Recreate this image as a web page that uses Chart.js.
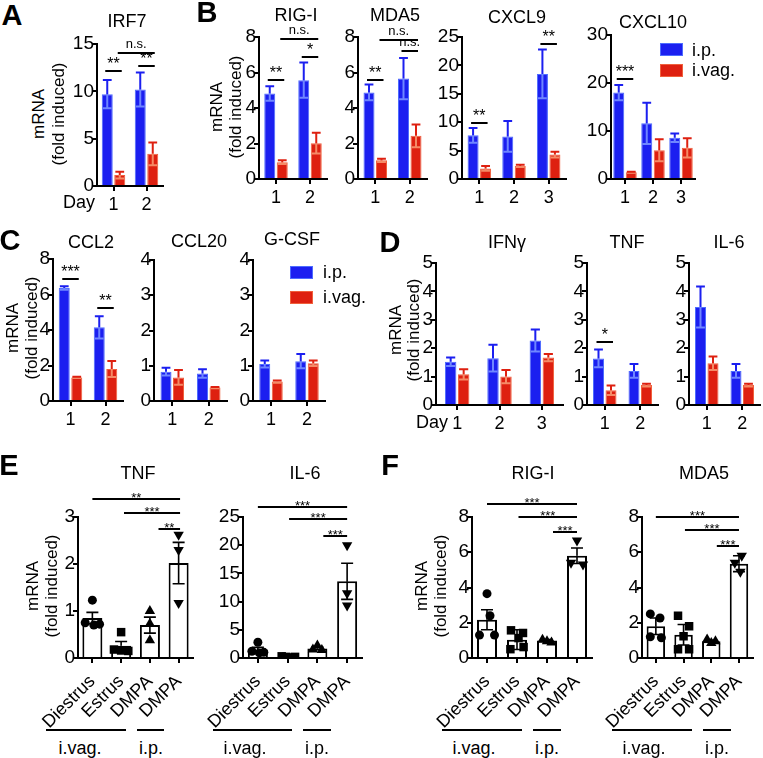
<!DOCTYPE html>
<html>
<head>
<meta charset="utf-8">
<script src="https://cdn.jsdelivr.net/npm/chart.js@4.4.1/dist/chart.umd.min.js"></script>
<style>
  body { margin: 0; background: #fff; }
  #fig { position: relative; width: 763px; height: 758px; overflow: hidden;
         font-family: 'Liberation Sans', Arial, Helvetica, sans-serif; color: #000; }
  #fig canvas { position: absolute; }
  .t { position: absolute; white-space: nowrap; font-size: 18px; line-height: 1; }
  .rule { position: absolute; height: 2px; background: #000; }
  .sw { position: absolute; width: 21px; height: 11px; border: 1px solid; }
</style>
</head>
<body>
<div id="fig"></div>
<script>
// ---------- data: day courses (A-D) ----------
const days2 = ['1', '2'];
const days3 = ['1', '2', '3'];

const irf7Ip = [9.7, 10.2],   irf7IpSem = [1.5, 1.8];
const irf7Ivag = [1.15, 3.4], irf7IvagSem = [0.35, 1.2];

const rigIp = [4.82, 5.57],   rigIpSem = [0.41, 0.99];
const rigIvag = [0.95, 2.02], rigIvagSem = [0.1, 0.58];

const mda5Ip = [4.88, 5.66],   mda5IpSem = [0.45, 1.16];
const mda5Ivag = [1.05, 2.43], mda5IvagSem = [0.09, 0.64];

const cxcl9Ip = [7.7, 7.5, 18.5],   cxcl9IpSem = [1.3, 2.7, 4.3];
const cxcl9Ivag = [1.87, 2.3, 4.3], cxcl9IvagSem = [0.43, 0.2, 0.5];

const cxcl10Ip = [18.0, 11.6, 8.6], cxcl10IpSem = [1.6, 4.3, 0.9];
const cxcl10Ivag = [1.4, 6.0, 6.5], cxcl10IvagSem = [0.1, 2.3, 2.0];

const ccl2Ip = [6.37, 4.15],  ccl2IpSem = [0.1, 0.63];
const ccl2Ivag = [1.33, 1.8], ccl2IvagSem = [0.04, 0.45];

const ccl20Ip = [0.83, 0.78],   ccl20IpSem = [0.11, 0.12];
const ccl20Ivag = [0.67, 0.38], ccl20IvagSem = [0.21, 0.02];

const gcsfIp = [1.05, 1.13],   gcsfIpSem = [0.1, 0.2];
const gcsfIvag = [0.55, 1.07], gcsfIvagSem = [0.03, 0.08];

const ifngIp = [1.52, 1.65, 2.27],  ifngIpSem = [0.15, 0.47, 0.39];
const ifngIvag = [1.08, 1.0, 1.67], ifngIvagSem = [0.18, 0.23, 0.13];

const dTnfIp = [1.64, 1.2],   dTnfIpSem = [0.31, 0.24];
const dTnfIvag = [0.52, 0.7], dTnfIvagSem = [0.17, 0.05];

const dIl6Ip = [3.45, 1.2],   dIl6IpSem = [0.72, 0.24];
const dIl6Ivag = [1.47, 0.7], dIl6IvagSem = [0.24, 0.05];

// significance bars: a/b = [day index, series index], y in axis units
const irf7Sig = [
  { a: [0, 0], b: [0, 1], y: 12.1, t: '**' },
  { a: [0, 1], b: [1, 1], y: 14.1, t: 'n.s.' },
  { a: [1, 0], b: [1, 1], y: 12.7, t: '**' }
];
const rigSig = [
  { a: [0, 0], b: [0, 1], y: 5.58, t: '**' },
  { a: [0, 1], b: [1, 1], y: 7.9, t: 'n.s.' },
  { a: [1, 0], b: [1, 1], y: 6.87, t: '*' }
];
const mda5Sig = [
  { a: [0, 0], b: [0, 1], y: 5.58, t: '**' },
  { a: [0, 1], b: [1, 1], y: 7.83, t: 'n.s.' },
  { a: [1, 0], b: [1, 1], y: 7.2, t: 'n.s.' }
];
const cxcl9Sig = [
  { a: [0, 0], b: [0, 1], y: 9.86, t: '**' },
  { a: [2, 0], b: [2, 1], y: 23.8, t: '**' }
];
const cxcl10Sig = [{ a: [0, 0], b: [0, 1], y: 20.8, t: '***' }];
const ccl2Sig = [
  { a: [0, 0], b: [0, 1], y: 6.87, t: '***' },
  { a: [1, 0], b: [1, 1], y: 5.24, t: '**' }
];
const dTnfSig = [{ a: [0, 0], b: [0, 1], y: 2.22, t: '*' }];

// ---------- data: cycle / DMPA (E-F) ----------
const groups = ['Diestrus', 'Estrus', 'DMPA', 'DMPA'];

const eTnfMean = [0.85, 0.26, 0.70, 2.02];
const eTnfSem = [0.12, 0.09, 0.17, 0.44];
const eTnfPts = [[1.23, 0.75, 0.72, 0.70], [0.55, 0.18, 0.15, 0.16], [1.0, 0.73, 0.38], [2.62, 2.3, 1.17]];
const eTnfPtX = [[0, -0.25, 0.25, 0.05], [0, -0.25, 0.25, 0], [0, 0, 0], [0, 0, 0]];

const eIl6Mean = [1.48, 0.2, 1.7, 13.6];
const eIl6Sem = [0.4, 0.1, 0.25, 3.2];
const eIl6Pts = [[2.8, 1.2, 1.0, 0.9], [0.3, 0.2, 0.1, 0.2], [2.2, 1.5, 1.4], [20.0, 11.5, 9.3]];
const eIl6PtX = [[0, -0.2, 0.2, 0.05], [-0.2, -0.05, 0.1, 0.25], [0, -0.15, 0.15], [0, 0, 0]];

const fRigMean = [2.17, 1.04, 1.0, 5.8];
const fRigSem = [0.57, 0.56, 0.05, 0.44];
const fRigPts = [[3.65, 2.4, 1.3, 1.3], [1.57, 1.42, 1.13, 0.5, 0.62], [1.04, 0.95, 0.88], [6.67, 5.4, 5.3]];
const fRigPtX = [[0, 0.1, -0.25, 0.25], [-0.2, 0.2, 0.05, -0.22, 0.22], [-0.15, 0, 0.15], [0, -0.2, 0.2]];

const fMda5Mean = [1.8, 1.32, 0.95, 5.35];
const fMda5Sem = [0.47, 0.58, 0.06, 0.45];
const fMda5Pts = [[2.5, 2.27, 1.2, 1.15], [2.4, 1.8, 0.5, 0.5, 1.23], [1.05, 0.95, 0.85], [5.8, 5.4, 4.9]];
const fMda5PtX = [[-0.2, 0.15, -0.2, 0.2], [-0.2, 0.2, -0.2, 0.2, 0], [-0.15, 0.15, 0], [0.1, -0.15, 0.05]];

// a/b = group positions on the x axis
const eTnfSig = [
  { a: 0, b: 3.05, y: 3.38, t: '**' },
  { a: 1.1, b: 3.05, y: 3.08, t: '***' },
  { a: 2.3, b: 3.05, y: 2.74, t: '**' }
];
const eIl6Sig = [
  { a: 0, b: 3, y: 26.8, t: '***' },
  { a: 1.05, b: 3, y: 24.6, t: '***' },
  { a: 2.2, b: 3, y: 21.6, t: '***' }
];
const fRigSig = [
  { a: 0, b: 3, y: 8.74, t: '***' },
  { a: 1.05, b: 3, y: 8.0, t: '***' },
  { a: 2.2, b: 3, y: 7.15, t: '***' }
];
const fMda5Sig = [
  { a: 0, b: 3, y: 8.0, t: '***' },
  { a: 1.05, b: 3, y: 7.26, t: '***' },
  { a: 2.2, b: 3, y: 6.35, t: '***' }
];

// ---------- styling ----------
const FONT = "'Liberation Sans', Arial, Helvetica, sans-serif";
Chart.defaults.font.family = FONT;
Chart.defaults.font.size = 18;
Chart.defaults.color = '#000';

const BLUE = '#1b1ff0', BLUE_EDGE = '#4d6cff', BLUE_IN = '#6f86ff';
const RED = '#de2010', RED_EDGE = '#f0603c', RED_IN = '#f58a66';

const fig = document.getElementById('fig');

// error bars + significance bars
const marks = {
  id: 'marks',
  afterDatasetsDraw(chart, args, opts) {
    const ctx = chart.ctx;
    const ys = chart.scales.y;
    chart.data.datasets.forEach((ds, di) => {
      if (!ds.errors) return;
      chart.getDatasetMeta(di).data.forEach((bar, i) => {
        const d = ds.data[i];
        const v = typeof d === 'object' ? d.y : d, e = ds.errors[i];
        const hi = ys.getPixelForValue(v + e);
        const lo = ys.getPixelForValue(Math.max(v - e, 0));
        const half = (ds.capW || bar.width * 0.8) / 2;
        ctx.save();
        ctx.lineWidth = ds.errWidth || 2;
        ctx.strokeStyle = ds.errInner || ds.errColor;
        ctx.beginPath();
        ctx.moveTo(bar.x, bar.y); ctx.lineTo(bar.x, lo);
        ctx.moveTo(bar.x - half, lo); ctx.lineTo(bar.x + half, lo);
        ctx.stroke();
        ctx.strokeStyle = ds.errColor;
        ctx.beginPath();
        ctx.moveTo(bar.x, bar.y); ctx.lineTo(bar.x, hi);
        ctx.moveTo(bar.x - half, hi); ctx.lineTo(bar.x + half, hi);
        ctx.stroke();
        ctx.restore();
      });
    });
    (opts.brackets || []).forEach(b => {
      let xa, xb;
      if (Array.isArray(b.a)) {
        xa = chart.getDatasetMeta(b.a[1]).data[b.a[0]].x - opts.ext;
        xb = chart.getDatasetMeta(b.b[1]).data[b.b[0]].x + opts.ext;
      } else {
        xa = chart.scales.x.getPixelForValue(b.a);
        xb = chart.scales.x.getPixelForValue(b.b);
      }
      const yy = Math.round(ys.getPixelForValue(b.y));
      const ns = b.t === 'n.s.';
      ctx.save();
      ctx.strokeStyle = '#000';
      ctx.lineWidth = 2;
      ctx.beginPath(); ctx.moveTo(xa, yy); ctx.lineTo(xb, yy); ctx.stroke();
      ctx.fillStyle = '#000';
      ctx.textAlign = 'center';
      ctx.font = (ns ? 13 : opts.starSize) + 'px ' + FONT;
      ctx.fillText(b.t, (xa + xb) / 2, yy + (ns ? -5 : opts.starDy));
      ctx.restore();
    });
  }
};

function pair(ip, ipSem, ivag, ivagSem) {
  return [
    { label: 'i.p.', data: ip, errors: ipSem, backgroundColor: BLUE, borderColor: BLUE_EDGE,
      borderWidth: 1, errColor: BLUE, errInner: BLUE_IN },
    { label: 'i.vag.', data: ivag, errors: ivagSem, backgroundColor: RED, borderColor: RED_EDGE,
      borderWidth: 1, errColor: RED, errInner: RED_IN }
  ];
}

const markers = [
  { style: 'circle', r: 4.5, rot: 0 },
  { style: 'rect', r: 6, rot: 0 },
  { style: 'triangle', r: 6, rot: 0 },
  { style: 'triangle', r: 6, rot: 180 }
];

function cycle(mean, sem, pts, ptX) {
  const sets = [{
    data: mean.map((v, i) => ({ x: i, y: v })), errors: sem,
    backgroundColor: '#fff', borderColor: '#000', borderWidth: 2,
    errColor: '#000', errWidth: 1.6, capW: 12, order: 2, grouped: false
  }];
  pts.forEach((g, gi) => {
    sets.push({
      type: 'scatter', order: 1,
      data: g.map((v, k) => ({ x: gi + ptX[gi][k], y: v })),
      pointStyle: markers[gi].style, pointRadius: markers[gi].r, pointRotation: markers[gi].rot,
      pointBackgroundColor: '#000', pointBorderColor: '#000', pointBorderWidth: 0
    });
  });
  return sets;
}

// box = [left, right, top, bottom] of the plot area on the page
function panel(box, labels, datasets, yMax, yStep, extra = {}) {
  const padL = extra.padL || 44, padT = 44, padR = extra.padR || 12, padB = extra.padB || 34;
  const w = box[1] - box[0] + padL + padR;
  const h = box[3] - box[2] + padT + padB;
  const cv = document.createElement('canvas');
  cv.width = w; cv.height = h;
  cv.style.left = (box[0] - padL) + 'px';
  cv.style.top = (box[2] - padT) + 'px';
  cv.style.width = w + 'px'; cv.style.height = h + 'px';
  fig.appendChild(cv);
  const cw = (box[1] - box[0]) / labels.length;
  const axisGrid = { display: true, drawOnChartArea: false, drawTicks: true, tickLength: 5, color: '#000', lineWidth: 2 };
  const x = {
    offset: true,
    grid: Object.assign({ offset: false }, axisGrid),
    border: { display: true, color: '#000', width: 2 },
    ticks: { autoSkip: false, padding: extra.xPad || 3, maxRotation: extra.rot || 0, minRotation: extra.rot || 0, font: { size: 18 } },
    afterFit: s => { s.height = padB; }
  };
  if (extra.points) {
    // linear group axis so the jittered dots and the bars share one scale
    Object.assign(x, {
      type: 'linear', offset: false, min: -0.5, max: labels.length - 0.5,
      afterBuildTicks: s => { s.ticks = labels.map((l, i) => ({ value: i })); }
    });
    x.ticks.callback = v => labels[v];
  }
  const scales = {
    x,
    y: {
      min: 0, max: yMax,
      grid: axisGrid,
      border: { display: true, color: '#000', width: 2 },
      ticks: { stepSize: yStep, autoSkip: false, padding: -2, font: { size: 19 } },
      afterFit: s => { s.width = padL; }
    }
  };
  new Chart(cv, {
    type: 'bar',
    data: extra.points ? { datasets } : { labels, datasets },
    options: {
      responsive: false,
      animation: false,
      layout: { padding: { top: padT, right: padR, left: 0, bottom: 0 } },
      datasets: { bar: { categoryPercentage: (extra.barW || 25) / cw, barPercentage: extra.barPct || 0.88 } },
      scales,
      plugins: {
        legend: { display: false },
        tooltip: { enabled: false },
        marks: { brackets: extra.brackets || [], ext: extra.points ? 0 : 2,
                 starSize: extra.points ? 13 : 16, starDy: extra.points ? 3 : -2 }
      }
    },
    plugins: [marks]
  });
}

// ---------- html text ----------
function txt(s, x, y, o = {}) {
  const d = document.createElement('div');
  d.className = 't';
  d.textContent = s;
  d.style.left = x + 'px';
  d.style.top = y + 'px';
  if (o.size) d.style.fontSize = o.size + 'px';
  if (o.bold) d.style.fontWeight = 'bold';
  d.style.transform = o.left ? 'translate(0,-50%)' : 'translate(-50%,-50%)' + (o.rot ? ' rotate(' + o.rot + 'deg)' : '');
  fig.appendChild(d);
}
function rule(x1, x2, y) {
  const d = document.createElement('div');
  d.className = 'rule';
  d.style.left = x1 + 'px'; d.style.width = (x2 - x1) + 'px'; d.style.top = (y - 1) + 'px';
  fig.appendChild(d);
}
function swatch(x, y, fill, edge) {
  const d = document.createElement('div');
  d.className = 'sw';
  d.style.left = x + 'px'; d.style.top = y + 'px';
  d.style.background = fill; d.style.borderColor = edge;
  fig.appendChild(d);
}
function yTitle(x1, x2, y) {
  txt('mRNA', x1, y, { rot: -90, size: 17 });
  txt('(fold induced)', x2, y, { rot: -90, size: 17 });
}

// ---------- A ----------
panel([97, 163, 44, 186], days2, pair(irf7Ip, irf7IpSem, irf7Ivag, irf7IvagSem), 15, 5, { brackets: irf7Sig });
txt('A', 12, 15, { size: 29, bold: true });
txt('IRF7', 127, 21);
yTitle(38, 58, 114);
txt('Day', 79, 202);

// ---------- B ----------
panel([259, 327, 37, 179], days2, pair(rigIp, rigIpSem, rigIvag, rigIvagSem), 8, 2, { brackets: rigSig });
panel([358, 427, 37, 179], days2, pair(mda5Ip, mda5IpSem, mda5Ivag, mda5IvagSem), 8, 2, { brackets: mda5Sig });
panel([462, 566, 37, 179], days3, pair(cxcl9Ip, cxcl9IpSem, cxcl9Ivag, cxcl9IvagSem), 25, 5, { brackets: cxcl9Sig });
panel([611, 695, 35, 179], days3, pair(cxcl10Ip, cxcl10IpSem, cxcl10Ivag, cxcl10IvagSem), 30, 10, { brackets: cxcl10Sig });
txt('B', 207, 12, { size: 29, bold: true });
txt('RIG-I', 296, 15);
txt('MDA5', 395, 15);
txt('CXCL9', 517, 17);
txt('CXCL10', 653, 22);
yTitle(216, 235, 107);
swatch(660, 43, BLUE, BLUE_EDGE);
swatch(660, 64, RED, RED_EDGE);
txt('i.p.', 692, 50, { left: true });
txt('i.vag.', 692, 70, { left: true });

// ---------- C ----------
panel([53, 123, 259, 401], days2, pair(ccl2Ip, ccl2IpSem, ccl2Ivag, ccl2IvagSem), 8, 2, { brackets: ccl2Sig });
panel([154, 227, 260, 401], days2, pair(ccl20Ip, ccl20IpSem, ccl20Ivag, ccl20IvagSem), 4, 1);
panel([253, 325, 260, 401], days2, pair(gcsfIp, gcsfIpSem, gcsfIvag, gcsfIvagSem), 4, 1);
txt('C', 10, 240, { size: 29, bold: true });
txt('CCL2', 91, 242);
txt('CCL20', 199, 241);
txt('G-CSF', 292, 239);
yTitle(12, 31, 328);
swatch(290, 266, BLUE, BLUE_EDGE);
swatch(290, 291, RED, RED_EDGE);
txt('i.p.', 323, 272, { left: true });
txt('i.vag.', 323, 297, { left: true });

// ---------- D ----------
panel([436, 563, 263, 405], days3, pair(ifngIp, ifngIpSem, ifngIvag, ifngIvagSem), 5, 1, { barW: 26 });
panel([587, 658, 263, 405], days2, pair(dTnfIp, dTnfIpSem, dTnfIvag, dTnfIvagSem), 5, 1, { brackets: dTnfSig });
panel([689, 760, 263, 405], days2, pair(dIl6Ip, dIl6IpSem, dIl6Ivag, dIl6IvagSem), 5, 1, { padR: 2 });
txt('D', 390, 242, { size: 29, bold: true });
txt('IFNγ', 507, 242);
txt('TNF', 627, 242);
txt('IL-6', 729, 242);
yTitle(395, 413, 330);
txt('Day', 432, 422);

// ---------- E ----------
const cycOpts = { points: true, rot: 45, padB: 70, padL: 50, barW: 20, barPct: 1, xPad: 8 };
panel([78, 193, 517, 658], groups, cycle(eTnfMean, eTnfSem, eTnfPts, eTnfPtX), 3, 1, Object.assign({ brackets: eTnfSig }, cycOpts));
panel([243, 362, 517, 658], groups, cycle(eIl6Mean, eIl6Sem, eIl6Pts, eIl6PtX), 25, 5, Object.assign({ brackets: eIl6Sig }, cycOpts));
txt('E', 9, 465, { size: 29, bold: true });
txt('TNF', 138, 473);
txt('IL-6', 305, 473);
yTitle(32, 51, 586);
rule(46, 126, 730); rule(137, 164, 730);
rule(213, 292, 730); rule(303, 331, 730);
txt('i.vag.', 80, 748); txt('i.p.', 151, 748);
txt('i.vag.', 245, 748); txt('i.p.', 317, 748);

// ---------- F ----------
panel([472, 592, 517, 658], groups, cycle(fRigMean, fRigSem, fRigPts, fRigPtX), 8, 2, Object.assign({ brackets: fRigSig }, cycOpts));
panel([642, 762, 517, 658], groups, cycle(fMda5Mean, fMda5Sem, fMda5Pts, fMda5PtX), 8, 2, Object.assign({ brackets: fMda5Sig, padR: 1 }, cycOpts));
txt('F', 390, 465, { size: 29, bold: true });
txt('RIG-I', 533, 473);
txt('MDA5', 704, 473);
yTitle(421, 440, 586);
rule(442, 522, 730); rule(533, 561, 730);
rule(612, 692, 730); rule(703, 731, 730);
txt('i.vag.', 474, 748); txt('i.p.', 547, 748);
txt('i.vag.', 644, 748); txt('i.p.', 717, 748);
</script>
</body>
</html>
